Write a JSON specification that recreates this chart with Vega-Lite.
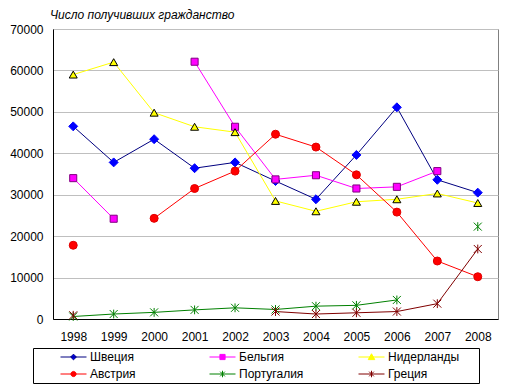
{
  "$schema": "https://vega.github.io/schema/vega-lite/v6.json",
  "width": 445,
  "height": 290,
  "autosize": {"type": "none"},
  "padding": {"left": 53, "top": 29, "right": 16, "bottom": 71},
  "title": {"text": "Число получивших гражданство", "anchor": "start", "frame": "group", "font": "Liberation Sans", "fontSize": 12, "fontStyle": "italic", "fontWeight": "normal", "color": "black", "offset": 1, "dx": -3},
  "config": {"view": {"stroke": "#808080", "strokeWidth": 1}, "font": "Liberation Sans"},
  "data": {"values": [
    {"year": "1998", "country": "Швеция", "value": 46500},
    {"year": "1999", "country": "Швеция", "value": 37800},
    {"year": "2000", "country": "Швеция", "value": 43400},
    {"year": "2001", "country": "Швеция", "value": 36400},
    {"year": "2002", "country": "Швеция", "value": 37800},
    {"year": "2003", "country": "Швеция", "value": 33300},
    {"year": "2004", "country": "Швеция", "value": 28900},
    {"year": "2005", "country": "Швеция", "value": 39600},
    {"year": "2006", "country": "Швеция", "value": 51100},
    {"year": "2007", "country": "Швеция", "value": 33600},
    {"year": "2008", "country": "Швеция", "value": 30500},
    {"year": "1998", "country": "Бельгия", "value": 34000},
    {"year": "1999", "country": "Бельгия", "value": 24200},
    {"year": "2000", "country": "Бельгия", "value": null},
    {"year": "2001", "country": "Бельгия", "value": 62100},
    {"year": "2002", "country": "Бельгия", "value": 46400},
    {"year": "2003", "country": "Бельгия", "value": 33700},
    {"year": "2004", "country": "Бельгия", "value": 34700},
    {"year": "2005", "country": "Бельгия", "value": 31500},
    {"year": "2006", "country": "Бельгия", "value": 31900},
    {"year": "2007", "country": "Бельгия", "value": 35700},
    {"year": "1998", "country": "Нидерланды", "value": 59000},
    {"year": "1999", "country": "Нидерланды", "value": 62000},
    {"year": "2000", "country": "Нидерланды", "value": 49800},
    {"year": "2001", "country": "Нидерланды", "value": 46400},
    {"year": "2002", "country": "Нидерланды", "value": 45100},
    {"year": "2003", "country": "Нидерланды", "value": 28500},
    {"year": "2004", "country": "Нидерланды", "value": 26000},
    {"year": "2005", "country": "Нидерланды", "value": 28300},
    {"year": "2006", "country": "Нидерланды", "value": 28900},
    {"year": "2007", "country": "Нидерланды", "value": 30300},
    {"year": "2008", "country": "Нидерланды", "value": 28000},
    {"year": "1998", "country": "Австрия", "value": 17800},
    {"year": "1999", "country": "Австрия", "value": null},
    {"year": "2000", "country": "Австрия", "value": 24300},
    {"year": "2001", "country": "Австрия", "value": 31500},
    {"year": "2002", "country": "Австрия", "value": 35700},
    {"year": "2003", "country": "Австрия", "value": 44600},
    {"year": "2004", "country": "Австрия", "value": 41500},
    {"year": "2005", "country": "Австрия", "value": 34800},
    {"year": "2006", "country": "Австрия", "value": 25800},
    {"year": "2007", "country": "Австрия", "value": 14000},
    {"year": "2008", "country": "Австрия", "value": 10200},
    {"year": "1998", "country": "Португалия", "value": 600},
    {"year": "1999", "country": "Португалия", "value": 1200},
    {"year": "2000", "country": "Португалия", "value": 1600},
    {"year": "2001", "country": "Португалия", "value": 2200},
    {"year": "2002", "country": "Португалия", "value": 2700},
    {"year": "2003", "country": "Португалия", "value": 2300},
    {"year": "2004", "country": "Португалия", "value": 3100},
    {"year": "2005", "country": "Португалия", "value": 3300},
    {"year": "2006", "country": "Португалия", "value": 4600},
    {"year": "2007", "country": "Португалия", "value": null},
    {"year": "2008", "country": "Португалия", "value": 22300},
    {"year": "1998", "country": "Греция", "value": 900},
    {"year": "1999", "country": "Греция", "value": null},
    {"year": "2000", "country": "Греция", "value": null},
    {"year": "2001", "country": "Греция", "value": null},
    {"year": "2002", "country": "Греция", "value": null},
    {"year": "2003", "country": "Греция", "value": 1800},
    {"year": "2004", "country": "Греция", "value": 1200},
    {"year": "2005", "country": "Греция", "value": 1500},
    {"year": "2006", "country": "Греция", "value": 1800},
    {"year": "2007", "country": "Греция", "value": 3700},
    {"year": "2008", "country": "Греция", "value": 16900}
  ]},
  "encoding": {
    "x": {"field": "year", "type": "ordinal", "scale": {"type": "point", "padding": 0.5},
      "axis": {"title": null, "labelAngle": 0, "ticks": false, "labelPadding": 12, "domainColor": "black", "grid": false, "labelFont": "Liberation Sans", "labelFontSize": 12, "labelColor": "black"}},
    "y": {"field": "value", "type": "quantitative", "scale": {"domain": [0, 70000], "nice": false},
      "axis": {"title": null, "values": [0, 10000, 20000, 30000, 40000, 50000, 60000, 70000], "format": "d", "ticks": false, "labelPadding": 10, "grid": true, "gridColor": "#BFBFBF", "domainColor": "black", "labelFont": "Liberation Sans", "labelFontSize": 12, "labelColor": "black"}}
  },
  "layer": [
    {
      "mark": {"type": "line", "strokeWidth": 1, "invalid": "break-paths-filter-domains"},
      "encoding": {
        "color": {"field": "country", "type": "nominal",
          "scale": {"domain": ["Швеция", "Бельгия", "Нидерланды", "Австрия", "Португалия", "Греция"], "range": ["#000080", "#FF00FF", "#FFFF00", "#FF0000", "#008000", "#800000"]},
          "legend": {"orient": "none", "legendX": -20, "legendY": 319, "columns": 3, "direction": "horizontal",
            "title": ".", "titleOrient": "right", "titlePadding": 15, "titleColor": "transparent", "titleFontSize": 12, "titleFont": "Liberation Sans",
            "strokeColor": "black", "padding": 1, "symbolSize": 676, "clipHeight": 16, "rowPadding": 1, "columnPadding": 21, "gridAlign": "all",
            "labelFont": "Liberation Sans", "labelFontSize": 12, "labelColor": "black", "labelOffset": 3, "symbolOffset": 26, "symbolStrokeWidth": 1, "symbolOpacity": 1,
            "encode": {"symbols": {"update": {
              "shape": {"signal": "datum.value === 'Швеция' ? 'M-1,0H1M0,-0.22L0.22,0L0,0.22L-0.22,0Z' : datum.value === 'Бельгия' ? 'M-1,0H1M-0.2,-0.2H0.2V0.2H-0.2Z' : datum.value === 'Нидерланды' ? 'M-1,0H1M0,-0.25L0.25,0.2H-0.25Z' : datum.value === 'Австрия' ? 'M-1,0H1M-0.2,0A0.2,0.2,0,1,0,0.2,0A0.2,0.2,0,1,0,-0.2,0Z' : 'M-1,0H1M-0.18,-0.18L0.18,0.18M-0.18,0.18L0.18,-0.18M0,-0.25V0.25'"},
              "fill": {"signal": "datum.value === 'Швеция' ? '#0000FF' : datum.value === 'Бельгия' ? '#FF00FF' : datum.value === 'Нидерланды' ? '#FFFF00' : datum.value === 'Австрия' ? '#FF0000' : 'transparent'"},
              "stroke": {"signal": "scale('color', datum.value)"}
            }}}
          }
        }
      }
    },
    {
      "transform": [{"filter": "datum.country === 'Швеция'"}],
      "mark": {"type": "point", "shape": "diamond", "filled": true, "size": 80, "fill": "#0000FF", "stroke": "#0000FF", "strokeWidth": 1, "opacity": 1}
    },
    {
      "transform": [{"filter": "datum.country === 'Бельгия'"}],
      "mark": {"type": "point", "shape": "square", "filled": true, "size": 50, "fill": "#FF00FF", "stroke": "#800080", "strokeWidth": 1, "opacity": 1}
    },
    {
      "transform": [{"filter": "datum.country === 'Нидерланды'"}],
      "mark": {"type": "point", "shape": "triangle-up", "filled": true, "size": 64, "fill": "#FFFF00", "stroke": "#000000", "strokeWidth": 1, "opacity": 1}
    },
    {
      "transform": [{"filter": "datum.country === 'Австрия'"}],
      "mark": {"type": "point", "shape": "circle", "filled": true, "size": 64, "fill": "#FF0000", "stroke": "#E00000", "strokeWidth": 1, "opacity": 1}
    },
    {
      "transform": [{"filter": "datum.country === 'Португалия'"}],
      "mark": {"type": "point", "shape": "M-1,-1L1,1M-1,1L1,-1M0,-1.1V1.1", "filled": false, "size": 64, "stroke": "#008000", "strokeWidth": 1, "opacity": 1}
    },
    {
      "transform": [{"filter": "datum.country === 'Греция'"}],
      "mark": {"type": "point", "shape": "M-1,-1L1,1M-1,1L1,-1M0,-1.1V1.1", "filled": false, "size": 64, "stroke": "#800000", "strokeWidth": 1, "opacity": 1}
    }
  ]
}
